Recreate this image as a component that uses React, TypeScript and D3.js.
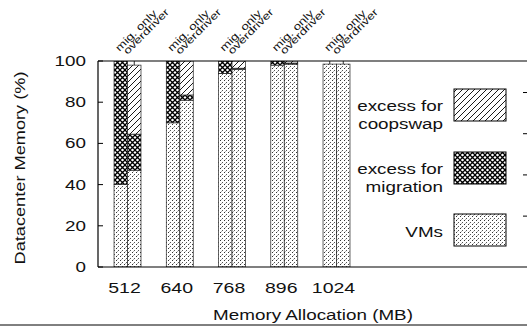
import React from "react";
import * as d3 from "d3";

const categories = ["512", "640", "768", "896", "1024"];
const migVMs = [40, 70, 94, 98, 98.5];
const migMigration = [60, 30, 6, 2, 0];
const migCoopswap = [0, 0, 0, 0, 0];
const odVMs = [47, 81, 96, 98.5, 98.5];
const odMigration = [17.5, 2.5, 0.5, 0.5, 0];
const odCoopswap = [33.5, 16.5, 3.5, 1, 0];
const migErrHigh = [100, 100, 100, 100, 101];
const odErrHigh = [101, 100, 100, 100, 101];
const barLabels = ["mig. only", "overdriver"];
const yTicks = [0, 20, 40, 60, 80, 100];
const y2Ticks = [20, 40, 60, 80];
const legendItems = [
  { lines: ["excess for", "coopswap"], pat: "pCoop" },
  { lines: ["excess for", "migration"], pat: "pMig" },
  { lines: ["VMs"], pat: "pVM" },
];

const W = 527;
const H = 326;
const L = 98, R = 528, T = 61, B = 267;
const SX = 1.3;
const FONT = "'Liberation Sans', Arial, Helvetica, sans-serif";

function T2({ x, y, rot = 0, size = 14.5, anchor = "start", children }: any) {
  return (
    <g transform={`translate(${x},${y}) rotate(${rot}) scale(${SX},1)`}>
      <text x={0} y={0} fontSize={size} textAnchor={anchor} fontFamily={FONT} fill="#111">
        {children}
      </text>
    </g>
  );
}

export default function App() {
  const x = d3.scaleLinear().domain([-0.565, 7.665]).range([L, R]);
  const y = d3.scaleLinear().domain([0, 100]).range([B, T]);
  const y2 = d3.scaleLinear().domain([-4.7, 95.3]).range([B, T]);
  const bw = 0.258;

  const series = [
    { vms: migVMs, mig: migMigration, coop: migCoopswap, err: migErrHigh, off: -bw },
    { vms: odVMs, mig: odMigration, coop: odCoopswap, err: odErrHigh, off: 0 },
  ];

  const bars: any[] = [];
  const errs: any[] = [];
  categories.forEach((c, i) => {
    series.forEach((s, j) => {
      const x0 = x(i + s.off);
      const x1 = x(i + s.off + bw);
      const segs = [
        { v0: 0, v1: s.vms[i], pat: "pVM" },
        { v0: s.vms[i], v1: s.vms[i] + s.mig[i], pat: "pMig" },
        { v0: s.vms[i] + s.mig[i], v1: s.vms[i] + s.mig[i] + s.coop[i], pat: "pCoop" },
      ];
      segs.forEach((sg, k) => {
        if (sg.v1 - sg.v0 <= 0) return;
        bars.push(
          <rect
            key={`b${i}-${j}-${k}`}
            x={x0}
            y={y(sg.v1)}
            width={x1 - x0}
            height={y(sg.v0) - y(sg.v1)}
            fill={`url(#${sg.pat})`}
            stroke="#222"
            strokeWidth={0.7}
          />
        );
      });
      const total = s.vms[i] + s.mig[i] + s.coop[i];
      if (s.err[i] > total) {
        const cx = (x0 + x1) / 2;
        errs.push(
          <g key={`e${i}-${j}`} stroke="#000" strokeWidth={0.8}>
            <line x1={cx} x2={cx} y1={y(total)} y2={y(Math.min(100, s.err[i]))} />
          </g>
        );
      }
    });
  });

  return (
    <svg width={W} height={H} style={{ position: "absolute", left: 0, top: 0, background: "#fff" }}>
      <defs>
        <pattern id="pVM" width={4} height={4} patternUnits="userSpaceOnUse">
          <rect width={4} height={4} fill="#fff" />
          <rect x={0} y={0} width={1} height={1} fill="#333" />
          <rect x={2} y={2} width={1} height={1} fill="#555" />
          <rect x={1} y={3} width={0.8} height={0.8} fill="#888" />
        </pattern>
        <pattern id="pMig" width={5} height={5} patternUnits="userSpaceOnUse">
          <rect width={5} height={5} fill="#fff" />
          <path d="M0,0 L5,5 M5,0 L0,5" stroke="#000" strokeWidth={1.4} />
          <circle cx={2.5} cy={0} r={0.9} fill="#fff" />
          <circle cx={2.5} cy={5} r={0.9} fill="#fff" />
        </pattern>
        <pattern id="pCoop" width={6} height={6} patternUnits="userSpaceOnUse">
          <rect width={6} height={6} fill="#fff" />
          <path d="M0,6 L6,0 M-1,1 L1,-1 M5,7 L7,5" stroke="#000" strokeWidth={0.9} />
        </pattern>
        <clipPath id="plotClip">
          <rect x={L} y={T} width={R - L} height={B - T} />
        </clipPath>
      </defs>
      <rect x={0} y={0} width={W} height={H} fill="#fff" />

      <g clipPath="url(#plotClip)">
        {bars}
        {errs}
      </g>

      <g stroke="#000" strokeWidth={1.2} fill="none">
        <line x1={L} x2={R} y1={T} y2={T} />
        <line x1={L} x2={R} y1={B} y2={B} />
        <line x1={L} x2={L} y1={T} y2={B} />
        <line x1={R} x2={R} y1={T} y2={B} />
      </g>
      <g stroke="#000" strokeWidth={1}>
        {yTicks.map((t) => (
          <line key={`lt${t}`} x1={L} x2={L + 5} y1={y(t)} y2={y(t)} />
        ))}
        {y2Ticks.map((t) => (
          <line key={`rt${t}`} x1={R - 5} x2={R} y1={y2(t)} y2={y2(t)} />
        ))}
      </g>
      {yTicks.map((t) => (
        <T2 key={`yl${t}`} x={86} y={y(t) + 5} anchor="end">
          {t}
        </T2>
      ))}
      {categories.map((c, i) => (
        <T2 key={`xl${c}`} x={x(i) - 3} y={293} anchor="middle" size={15}>
          {c}
        </T2>
      ))}
      {categories.map((c, i) => (
        <g key={`tl${c}`}>
          <T2 x={x(i) - 8} y={52} rot={-45} size={10.3}>
            {barLabels[0]}
          </T2>
          <T2 x={x(i)} y={55} rot={-45} size={10.3}>
            {barLabels[1]}
          </T2>
        </g>
      ))}
      <T2 x={(L + R) / 2} y={320} anchor="middle" size={14.5}>
        Memory Allocation (MB)
      </T2>
      <T2 x={25} y={(T + B) / 2 + 4} rot={-90} anchor="middle" size={14}>
        Datacenter Memory (%)
      </T2>

      {legendItems.map((it, k) => {
        const by = [89, 152, 214][k];
        const baselines = it.lines.length === 2 ? [by + 22, by + 40] : [by + 23];
        return (
          <g key={`lg${k}`}>
            {it.lines.map((ln, m) => (
              <T2 key={m} x={443} y={baselines[m]} anchor="end" size={14.5}>
                {ln}
              </T2>
            ))}
            <rect x={454} y={by} width={52} height={32} fill={`url(#${it.pat})`} stroke="#000" strokeWidth={1} />
          </g>
        );
      })}

      <line x1={0} x2={W} y1={325} y2={325} stroke="#000" strokeWidth={1} />
    </svg>
  );
}
